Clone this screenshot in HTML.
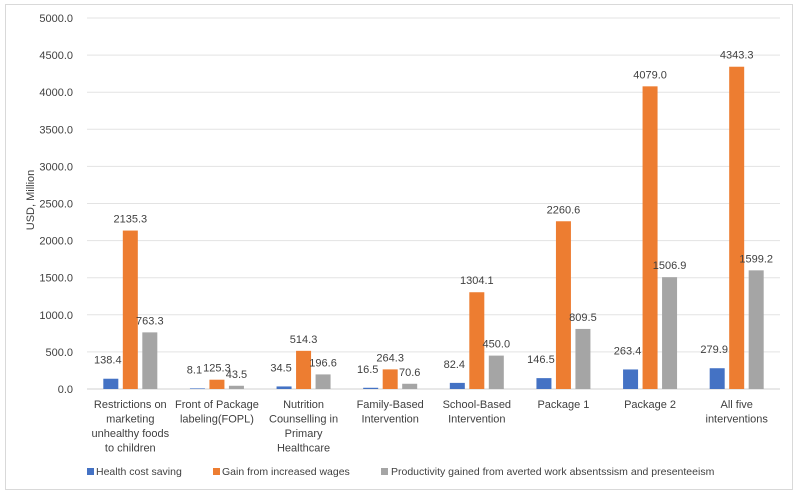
<!DOCTYPE html>
<html><head><meta charset="utf-8"><style>
body{margin:0;background:#fff}
svg text{font-family:"Liberation Sans",sans-serif;fill:#404040}
</style></head><body>
<svg id="c" width="798" height="497" xmlns="http://www.w3.org/2000/svg">
<rect x="5.5" y="4.5" width="787" height="485" fill="#fff" stroke="#d9d9d9"/>
<g id="grid"></g><g id="bars"></g><g id="lbl"></g>
<text transform="translate(34,200) rotate(-90)" font-size="11" text-anchor="middle">USD, Million</text>
<g font-size="10.5">
<rect x="87" y="468" width="7" height="7" fill="#4472c4"/>
<text x="96" y="475">Health cost saving</text>
<rect x="213" y="468" width="7" height="7" fill="#ed7d31"/>
<text x="222" y="475">Gain from increased wages</text>
<rect x="381" y="468" width="7" height="7" fill="#a5a5a5"/>
<text x="391" y="475">Productivity gained from averted work absentssism and presenteeism</text>
</g>
</svg>
<script>
const categories=[["Restrictions on","marketing","unhealthy foods","to children"],["Front of Package","labeling(FOPL)"],["Nutrition","Counselling in","Primary","Healthcare"],["Family-Based","Intervention"],["School-Based","Intervention"],["Package 1"],["Package 2"],["All five","interventions"]];
const health=[138.4,8.1,34.5,16.5,82.4,146.5,263.4,279.9];
const wages=[2135.3,125.3,514.3,264.3,1304.1,2260.6,4079.0,4343.3];
const productivity=[763.3,43.5,196.6,70.6,450.0,809.5,1506.9,1599.2];
const yTicks=[0,500,1000,1500,2000,2500,3000,3500,4000,4500,5000];
const NS="http://www.w3.org/2000/svg";
const x0=87,x1=780,yTop=18,yBot=389,yMax=5000;
const y=v=>yBot-(v/yMax)*(yBot-yTop);
const gw=(x1-x0)/categories.length;
const cx=i=>x0+gw*(i+0.5);
function mk(t,a,p){const e=document.createElementNS(NS,t);for(const k in a)e.setAttribute(k,a[k]);p.appendChild(e);return e;}
const grid=document.getElementById('grid'),bars=document.getElementById('bars'),lbl=document.getElementById('lbl');
yTicks.forEach(v=>{
 const l=mk('line',{x1:x0,x2:x1,y1:y(v),y2:y(v),stroke:v===0?'#d0d0d0':'#e3e3e3'},grid);
 
 
 const t=mk('text',{x:73,y:y(v)+4,'font-size':11,'text-anchor':'end'},grid);
 t.textContent=v.toFixed(1);
 
 
});
const series=[[health,'#4472c4',-19.5,'health'],[wages,'#ed7d31',0,'wages'],[productivity,'#a5a5a5',19.5,'productivity']];
const bw=15;
categories.forEach((c,i)=>{
 series.forEach(([d,col,off,nm],si)=>{
  const bx=cx(i)+off-bw/2;
  const r=mk('rect',{x:bx,y:y(d[i]),width:bw,height:yBot-y(d[i]),fill:col},bars);
  
  
  const t=mk('text',{x:cx(i)+off+(si===0?-3:0),y:y(d[i])-(si===0?15:8),'font-size':11,'text-anchor':'middle'},lbl);
  t.textContent=d[i].toFixed(1);
  
  
 });
 c.forEach((line,j)=>{
  const t=mk('text',{x:cx(i),y:408+j*14.5,'font-size':11,'text-anchor':'middle'},lbl);
  t.textContent=line;
  
  
 });
});
</script>
</body></html>
